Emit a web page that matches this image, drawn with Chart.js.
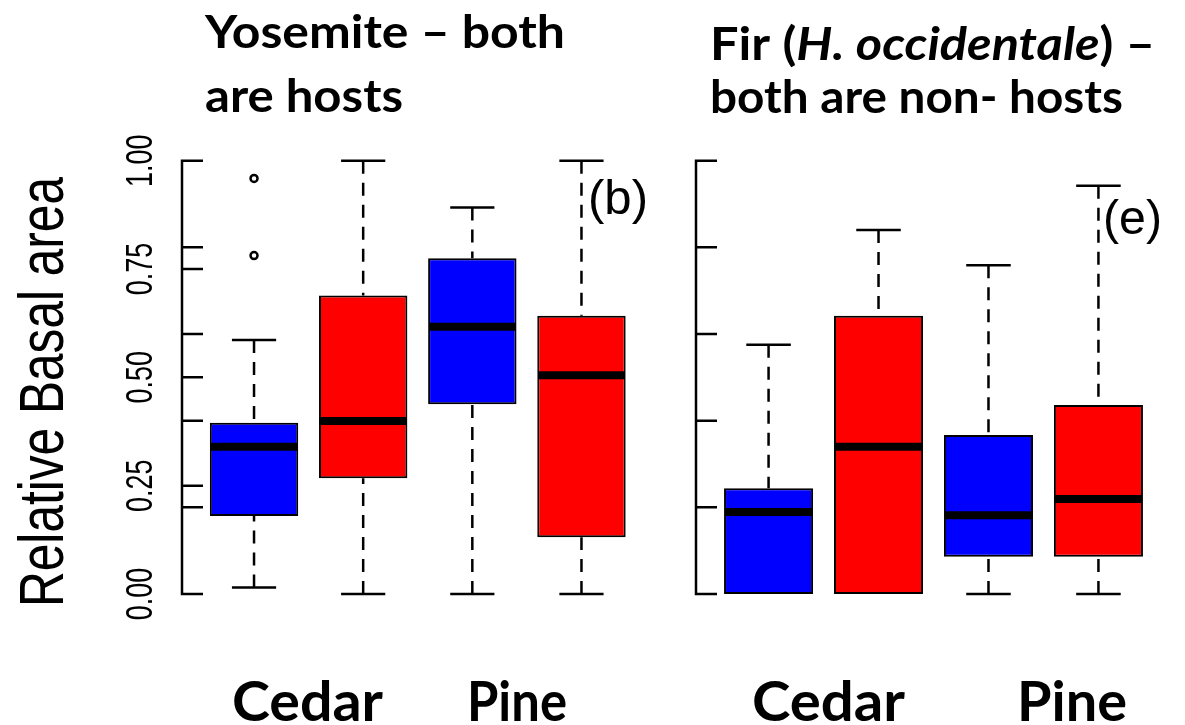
<!DOCTYPE html>
<html>
<head>
<meta charset="utf-8">
<script src="https://cdn.jsdelivr.net/npm/chart.js@4.4.1/dist/chart.umd.min.js"></script>
<style>
  html, body { margin: 0; padding: 0; background: #fff; }
  #wrap { position: relative; width: 1185px; height: 725px; overflow: hidden; }
  canvas { position: absolute; top: 0; }
</style>
</head>
<body>
<div id="wrap">
  <canvas id="yosemite" width="660" height="725" style="left:0"></canvas>
  <canvas id="fir" width="525" height="725" style="left:660px"></canvas>
</div>
<script>
// box positions: Cedar (blue, red), Pine (blue, red)
var boxPos = [1, 2, 3, 4];
var boxColors = ['#0000ff', '#ff0000', '#0000ff', '#ff0000'];
var categories = ['Cedar', 'Pine'];

// Yosemite - both are hosts
var yosLow = [0.015, 0, 0, 0];
var yosQ1 = [0.18, 0.267, 0.438, 0.131];
var yosMed = [0.34, 0.399, 0.617, 0.505];
var yosQ3 = [0.395, 0.689, 0.775, 0.642];
var yosHigh = [0.586, 1.0, 0.892, 1.0];
var yosOutliers = [[0.959, 0.781], [], [], []];

// Fir (H. occidentale) - both are non-hosts
var firLow = [0, 0, 0, 0];
var firQ1 = [0, 0, 0.086, 0.086];
var firMed = [0.189, 0.34, 0.182, 0.219];
var firQ3 = [0.244, 0.642, 0.367, 0.436];
var firHigh = [0.575, 0.84, 0.759, 0.942];
var firOutliers = [[], [], [], []];

// y axis ticks
var yLabelTicks = [0, 0.25, 0.5, 0.75, 1];
var yTickLabels = ['0.00', '0.25', '0.50', '0.75', '1.00'];
var fineTicks = [0, 0.2, 0.4, 0.6, 0.8, 1];

var TITLE = 'bold 46px Lato';
var TITLE_IT = 'italic bold 46px Lato';
var CAT = 'bold 56px Lato';
var ARIAL = '"Liberation Sans", Arial, sans-serif';

// text squeezed/stretched to a given width
function drawFitted(ctx, parts, x, base, width) {
    var total = 0;
    ctx.save();
    parts.forEach(function (p) { ctx.font = p.font; p.w = ctx.measureText(p.text).width; total += p.w; });
    ctx.translate(x, base);
    ctx.scale(width / total, 1);
    ctx.fillStyle = '#000';
    ctx.textAlign = 'left';
    ctx.textBaseline = 'alphabetic';
    var cx = 0;
    parts.forEach(function (p) { ctx.font = p.font; ctx.fillText(p.text, cx, 0); cx += p.w; });
    ctx.restore();
}

// rotated text reading upwards, baseline at x
function drawUp(ctx, text, font, x, cy, sy) {
    ctx.save();
    ctx.translate(x, cy);
    ctx.rotate(-Math.PI / 2);
    ctx.scale(1, sy);
    ctx.font = font;
    ctx.fillStyle = '#000';
    ctx.textAlign = 'center';
    ctx.textBaseline = 'alphabetic';
    ctx.fillText(text, 0, 0);
    ctx.restore();
}

function boxPlugin(stats, ticks) {
    return {
        id: 'boxes',
        afterDatasetsDraw: function (chart) {
            var ctx = chart.ctx, y = chart.scales.y;
            var bars = chart.getDatasetMeta(0).data;
            ctx.save();
            ctx.strokeStyle = '#000';
            bars.forEach(function (bar, i) {
                var half = bar.width / 2;
                // whiskers, dashed, from the end to the hinge
                ctx.lineWidth = 2.5;
                ctx.setLineDash([13, 9]);
                ctx.beginPath();
                if (stats.high[i] > stats.q3[i]) {
                    ctx.moveTo(bar.x, y.getPixelForValue(stats.high[i]));
                    ctx.lineTo(bar.x, y.getPixelForValue(stats.q3[i]));
                }
                if (stats.low[i] < stats.q1[i]) {
                    ctx.moveTo(bar.x, y.getPixelForValue(stats.low[i]));
                    ctx.lineTo(bar.x, y.getPixelForValue(stats.q1[i]));
                }
                ctx.stroke();
                // staples
                ctx.setLineDash([]);
                ctx.beginPath();
                [stats.high[i], stats.low[i]].forEach(function (v, k) {
                    if ((k === 0 && v > stats.q3[i]) || (k === 1 && v < stats.q1[i])) {
                        var py = y.getPixelForValue(v);
                        ctx.moveTo(bar.x - half / 2, py);
                        ctx.lineTo(bar.x + half / 2, py);
                    }
                });
                ctx.stroke();
                // median
                ctx.lineWidth = 8;
                ctx.beginPath();
                var pm = y.getPixelForValue(stats.med[i]);
                ctx.moveTo(bar.x - half + 1, pm);
                ctx.lineTo(bar.x + half - 1, pm);
                ctx.stroke();
            });
            // axis line with inward ticks
            var x0 = chart.chartArea.left;
            ctx.lineWidth = 2.5;
            ctx.beginPath();
            ctx.moveTo(x0, y.getPixelForValue(1) - 1.25);
            ctx.lineTo(x0, y.getPixelForValue(0) + 1.25);
            ticks.forEach(function (v) {
                var py = y.getPixelForValue(v);
                ctx.moveTo(x0, py);
                ctx.lineTo(x0 + 21, py);
            });
            ctx.stroke();
            ctx.restore();
        }
    };
}

function makeChart(id, stats, outliers, padLeft, padRight, ticks, texts) {
    var pts = [];
    outliers.forEach(function (list, i) {
        list.forEach(function (v) { pts.push({ x: boxPos[i], y: v }); });
    });
    return new Chart(document.getElementById(id), {
        type: 'bar',
        data: {
            datasets: [{
                data: boxPos.map(function (p, i) { return { x: p, y: [stats.q1[i], stats.q3[i]] }; }),
                backgroundColor: boxColors,
                borderColor: '#000',
                borderWidth: 2,
                borderSkipped: false,
                categoryPercentage: 1,
                barPercentage: 0.81
            }, {
                type: 'scatter',
                data: pts,
                pointStyle: 'circle',
                pointRadius: 3.5,
                borderWidth: 2.5,
                borderColor: '#000',
                backgroundColor: 'rgba(0,0,0,0)'
            }]
        },
        options: {
            responsive: false,
            animation: false,
            events: [],
            layout: { padding: { left: padLeft, right: padRight, top: 160.7, bottom: 131 } },
            scales: {
                x: {
                    type: 'linear', display: false, offset: false, min: 0.34, max: 4.66,
                    afterBuildTicks: function (s) { s.ticks = boxPos.map(function (v) { return { value: v }; }); }
                },
                y: { display: false, min: 0, max: 1 }
            },
            plugins: { legend: { display: false }, tooltip: { enabled: false } }
        },
        plugins: [boxPlugin(stats, ticks), { id: 'texts', afterDraw: texts }]
    });
}

function build() {
    makeChart('yosemite',
        { low: yosLow, q1: yosQ1, med: yosMed, q3: yosQ3, high: yosHigh },
        yosOutliers, 182, 3, [0, 0.2, 0.25, 0.4, 0.5, 0.6, 0.75, 0.8, 1],
        function (chart) {
            var ctx = chart.ctx, y = chart.scales.y;
            drawFitted(ctx, [{ text: 'Yosemite – both', font: TITLE }], 205, 48, 360);
            drawFitted(ctx, [{ text: 'are hosts', font: TITLE }], 205, 112, 198);
            drawUp(ctx, 'Relative Basal area', '49.6px ' + ARIAL, 63, 392, 1.27);
            yLabelTicks.forEach(function (v, i) {
                drawUp(ctx, yTickLabels[i], '27px ' + ARIAL, 152, y.getPixelForValue(v), 1.39);
            });
            drawFitted(ctx, [{ text: '(b)', font: '49px ' + ARIAL }], 588, 214, 60);
            drawFitted(ctx, [{ text: categories[0], font: CAT }], 232, 721, 151);
            drawFitted(ctx, [{ text: categories[1], font: CAT }], 467, 721, 100);
        });

    makeChart('fir',
        { low: firLow, q1: firQ1, med: firMed, q3: firQ3, high: firHigh },
        firOutliers, 36, 14, fineTicks,
        function (chart) {
            var ctx = chart.ctx;
            drawFitted(ctx, [
                { text: 'Fir (', font: TITLE },
                { text: 'H. occidentale', font: TITLE_IT },
                { text: ') –', font: TITLE }
            ], 50, 60, 445);
            drawFitted(ctx, [{ text: 'both are non- hosts', font: TITLE }], 50, 113, 413);
            drawFitted(ctx, [{ text: '(e)', font: '49px ' + ARIAL }], 443, 234, 59);
            drawFitted(ctx, [{ text: categories[0], font: CAT }], 92, 721, 153);
            drawFitted(ctx, [{ text: categories[1], font: CAT }], 357, 721, 110);
        });
}

document.addEventListener('DOMContentLoaded', function () {
    Promise.all([
        document.fonts.load(TITLE),
        document.fonts.load(TITLE_IT),
        document.fonts.load('49px "Liberation Sans"')
    ]).then(build, build);
});
</script>
</body>
</html>
